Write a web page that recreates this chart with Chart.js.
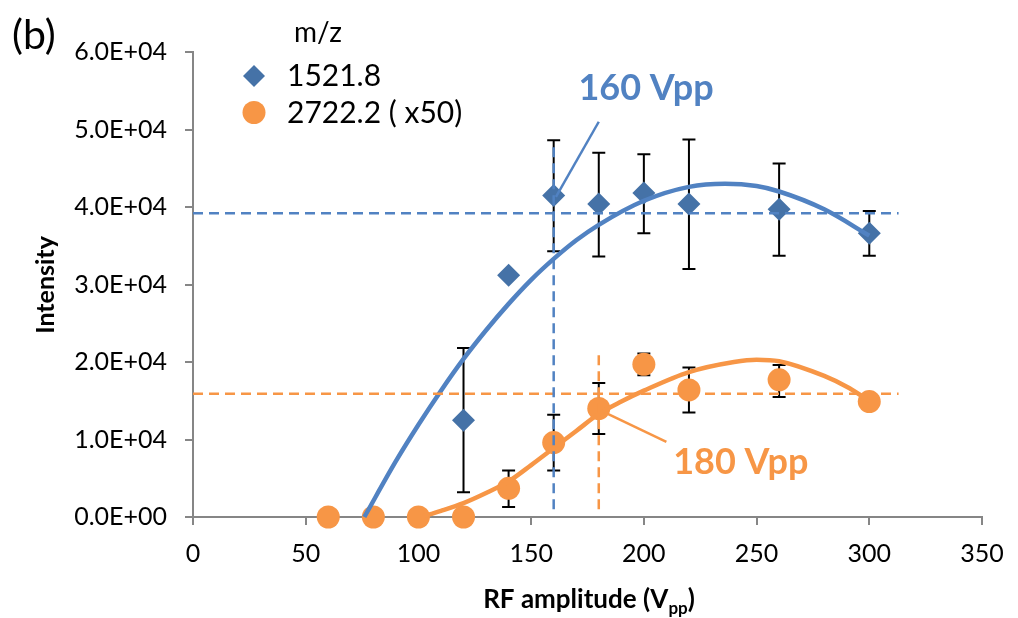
<!DOCTYPE html>
<html><head><meta charset="utf-8">
<script src="https://cdn.jsdelivr.net/npm/chart.js@4.4.1/dist/chart.umd.min.js"></script>
<style>html,body{margin:0;padding:0;background:#fff;}canvas{display:block}</style>
</head><body>
<canvas id="c" width="1018" height="618"></canvas>
<script>
// ---------- data ----------
const seriesNames = ['1521.8', '2722.2 ( x50)'];
const legendTitle = 'm/z';
const xTickValues = [0, 50, 100, 150, 200, 250, 300, 350];
const yTickValues = [0, 10000, 20000, 30000, 40000, 50000, 60000];

const rf1521 = [120, 140, 160, 180, 200, 220, 260, 300];
const int1521 = [12500, 31200, 41500, 40400, 41800, 40400, 39700, 36600];
const lo1521 = [3200, null, 34300, 33600, 36600, 32000, 33700, 33700];
const hi1521 = [21800, null, 48600, 47000, 46800, 48700, 45600, 39500];

const rf2722 = [60, 80, 100, 120, 140, 160, 180, 200, 220, 260, 300];
const int2722 = [0, 0, 0, 0, 3700, 9600, 14000, 19700, 16400, 17700, 14900];
const lo2722 = [null, null, null, null, 1300, 6000, 10700, 18300, 13500, 15500, null];
const hi2722 = [null, null, null, null, 6000, 13200, 17300, 21100, 19300, 19600, null];

const fitX1521 = [76, 90, 100, 110, 120, 130, 140, 150, 160, 170, 180, 200, 220, 236, 250, 260, 280, 300];
const fitY1521 = [0, 7200, 11900, 16300, 20400, 24100, 27500, 30600, 33300, 35700, 37700, 40800, 42600, 43000, 42700, 42000, 39700, 36300];
const fitX2722 = [101, 110, 120, 130, 140, 150, 160, 170, 180, 190, 200, 220, 240, 250, 260, 280, 290, 300];
const fitY2722 = [0, 800, 1800, 3100, 4600, 6700, 8900, 11100, 13300, 14900, 16300, 18700, 20000, 20300, 20100, 18200, 16800, 15000];

const refBlueX = 160, refBlueY = 39200, refBlueTop = 48000;
const refOrangeX = 180, refOrangeY = 15900, refOrangeTop = 21000;
const refStartY = 1000, refEndX = 313;

const label160 = '160 Vpp', label180 = '180 Vpp';
const leader160 = [[180, 51000], [161, 41300]];
const leader180 = [[184, 13300], [210, 9700]];
const text160Pos = [201, 55300];
const text180Pos = [243, 7100];

// ---------- styles ----------
const BLUE_MARK = '#4572A7';
const BLUE_LINE = '#5182C2';
const ORANGE = '#F79646';
const AXIS = '#868686';
const FONT = 'Lato, "Open Sans", sans-serif';

const pts = (xs, ys) => xs.map((x, i) => ({x, y: ys[i]}));

function fmtExp(v) {
  if (v === 0) return '0.0E+00';
  const e = Math.floor(Math.log10(Math.abs(v)));
  const m = v / Math.pow(10, e);
  return m.toFixed(1) + 'E' + (e >= 0 ? '+' : '-') + String(Math.abs(e)).padStart(2, '0');
}

const errorBars = {
  id: 'errorBars',
  beforeDatasetsDraw(chart) {
    const {ctx, scales: {x, y}} = chart;
    ctx.save();
    ctx.strokeStyle = '#000';
    ctx.lineWidth = 2;
    const draw = (xs, lo, hi) => {
      xs.forEach((xv, i) => {
        if (lo[i] == null) return;
        const px = x.getPixelForValue(xv);
        const p1 = y.getPixelForValue(lo[i]);
        const p2 = y.getPixelForValue(hi[i]);
        ctx.beginPath();
        ctx.moveTo(px, p1); ctx.lineTo(px, p2);
        ctx.moveTo(px - 6.5, p1); ctx.lineTo(px + 6.5, p1);
        ctx.moveTo(px - 6.5, p2); ctx.lineTo(px + 6.5, p2);
        ctx.stroke();
      });
    };
    draw(rf1521, lo1521, hi1521);
    draw(rf2722, lo2722, hi2722);
    ctx.restore();
  }
};

const decorations = {
  id: 'decorations',
  afterDraw(chart) {
    const {ctx, scales: {x, y}} = chart;
    ctx.save();
    const leader = (seg, col) => {
      ctx.strokeStyle = col; ctx.lineWidth = 2.5;
      ctx.beginPath();
      ctx.moveTo(x.getPixelForValue(seg[0][0]), y.getPixelForValue(seg[0][1]));
      ctx.lineTo(x.getPixelForValue(seg[1][0]), y.getPixelForValue(seg[1][1]));
      ctx.stroke();
    };
    leader(leader160, BLUE_LINE);
    leader(leader180, ORANGE);
    ctx.font = 'bold 36px ' + FONT;
    ctx.textAlign = 'center'; ctx.textBaseline = 'middle';
    ctx.fillStyle = BLUE_LINE;
    ctx.fillText(label160, x.getPixelForValue(text160Pos[0]), y.getPixelForValue(text160Pos[1]));
    ctx.fillStyle = ORANGE;
    ctx.fillText(label180, x.getPixelForValue(text180Pos[0]), y.getPixelForValue(text180Pos[1]));

    // legend
    ctx.textBaseline = 'alphabetic';
    ctx.fillStyle = '#000';
    ctx.font = '28px ' + FONT;
    ctx.textAlign = 'center';
    ctx.fillText(legendTitle, 318, 42);
    ctx.textAlign = 'left';
    ctx.font = '30px ' + FONT;
    ctx.fillText(seriesNames[0], 287, 86);
    ctx.fillText(seriesNames[1], 287, 123);
    ctx.fillStyle = BLUE_MARK;
    ctx.beginPath();
    ctx.moveTo(254, 65); ctx.lineTo(265, 76); ctx.lineTo(254, 87); ctx.lineTo(243, 76); ctx.closePath();
    ctx.fill();
    ctx.fillStyle = ORANGE;
    ctx.beginPath(); ctx.arc(254, 112.5, 11.5, 0, Math.PI * 2); ctx.fill();

    // panel label
    ctx.fillStyle = '#000';
    ctx.font = '41px ' + FONT;
    ctx.fillText('(b)', 12, 49);

    // axis titles
    ctx.font = 'bold 26px ' + FONT;
    const t1 = 'RF amplitude (V', t2 = 'pp', t3 = ')';
    const w1 = ctx.measureText(t1).width;
    ctx.font = 'bold 17px ' + FONT;
    const w2 = ctx.measureText(t2).width;
    ctx.font = 'bold 26px ' + FONT;
    const w3 = ctx.measureText(t3).width;
    const cx = 589, total = w1 + w2 + w3;
    const sx = cx - total / 2;
    ctx.fillText(t1, sx, 608);
    ctx.font = 'bold 17px ' + FONT;
    ctx.fillText(t2, sx + w1, 614);
    ctx.font = 'bold 26px ' + FONT;
    ctx.fillText(t3, sx + w1 + w2, 608);

    ctx.translate(46, 285);
    ctx.rotate(-Math.PI / 2);
    ctx.textAlign = 'center'; ctx.textBaseline = 'middle';
    ctx.font = 'bold 25px ' + FONT;
    ctx.fillText('Intensity', 0, 0);
    ctx.restore();
  }
};

new Chart(document.getElementById('c'), {
  type: 'scatter',
  data: {
    datasets: [
      {label: 'refBlueH', data: [{x: 0, y: refBlueY}, {x: refEndX, y: refBlueY}], showLine: true, borderColor: BLUE_LINE, borderWidth: 2.5, borderDash: [10, 6], pointRadius: 0, order: 1},
      {label: 'refBlueV', data: [{x: refBlueX, y: refStartY}, {x: refBlueX, y: refBlueTop}], showLine: true, borderColor: BLUE_LINE, borderWidth: 2.5, borderDash: [10, 6], pointRadius: 0, order: 1},
      {label: 'refOrangeH', data: [{x: 0, y: refOrangeY}, {x: refEndX, y: refOrangeY}], showLine: true, borderColor: ORANGE, borderWidth: 2.5, borderDash: [10, 6], pointRadius: 0, order: 1},
      {label: 'refOrangeV', data: [{x: refOrangeX, y: refStartY}, {x: refOrangeX, y: refOrangeTop}], showLine: true, borderColor: ORANGE, borderWidth: 2.5, borderDash: [10, 6], pointRadius: 0, order: 1},
      {label: 'fit1521', data: pts(fitX1521, fitY1521), showLine: true, borderColor: BLUE_LINE, borderWidth: 4.5, cubicInterpolationMode: 'monotone', pointRadius: 0, order: 2, clip: false},
      {label: 'fit2722', data: pts(fitX2722, fitY2722), showLine: true, borderColor: ORANGE, borderWidth: 4.5, cubicInterpolationMode: 'monotone', pointRadius: 0, order: 2, clip: false},
      {label: seriesNames[0], data: pts(rf1521, int1521), pointStyle: 'rectRot', pointRadius: 11.5, backgroundColor: BLUE_MARK, borderWidth: 0, order: 3, clip: false},
      {label: seriesNames[1], data: pts(rf2722, int2722), pointStyle: 'circle', pointRadius: 11.5, backgroundColor: ORANGE, borderWidth: 0, order: 3, clip: false}
    ]
  },
  options: {
    responsive: false,
    animation: false,
    events: [],
    layout: {padding: {top: 52, right: 36, left: 0, bottom: 0}},
    plugins: {legend: {display: false}, tooltip: {enabled: false}},
    scales: {
      x: {
        type: 'linear', min: 0, max: 350,
        afterBuildTicks: s => { s.ticks = xTickValues.map(v => ({value: v})); },
        afterFit: s => { s.height = 101; },
        grid: {drawOnChartArea: false, drawTicks: true, tickLength: 8, color: AXIS, lineWidth: 2},
        border: {color: AXIS, width: 2},
        ticks: {color: '#000', font: {family: FONT, size: 25}, padding: 14, maxRotation: 0}
      },
      y: {
        type: 'linear', min: 0, max: 60000,
        afterBuildTicks: s => { s.ticks = yTickValues.map(v => ({value: v})); },
        afterFit: s => { s.width = 193; },
        grid: {drawOnChartArea: false, drawTicks: true, tickLength: 8, color: AXIS, lineWidth: 2},
        border: {color: AXIS, width: 2},
        ticks: {color: '#000', font: {family: FONT, size: 25}, padding: 18, callback: v => fmtExp(v)}
      }
    }
  },
  plugins: [errorBars, decorations]
});
</script>
</body></html>
